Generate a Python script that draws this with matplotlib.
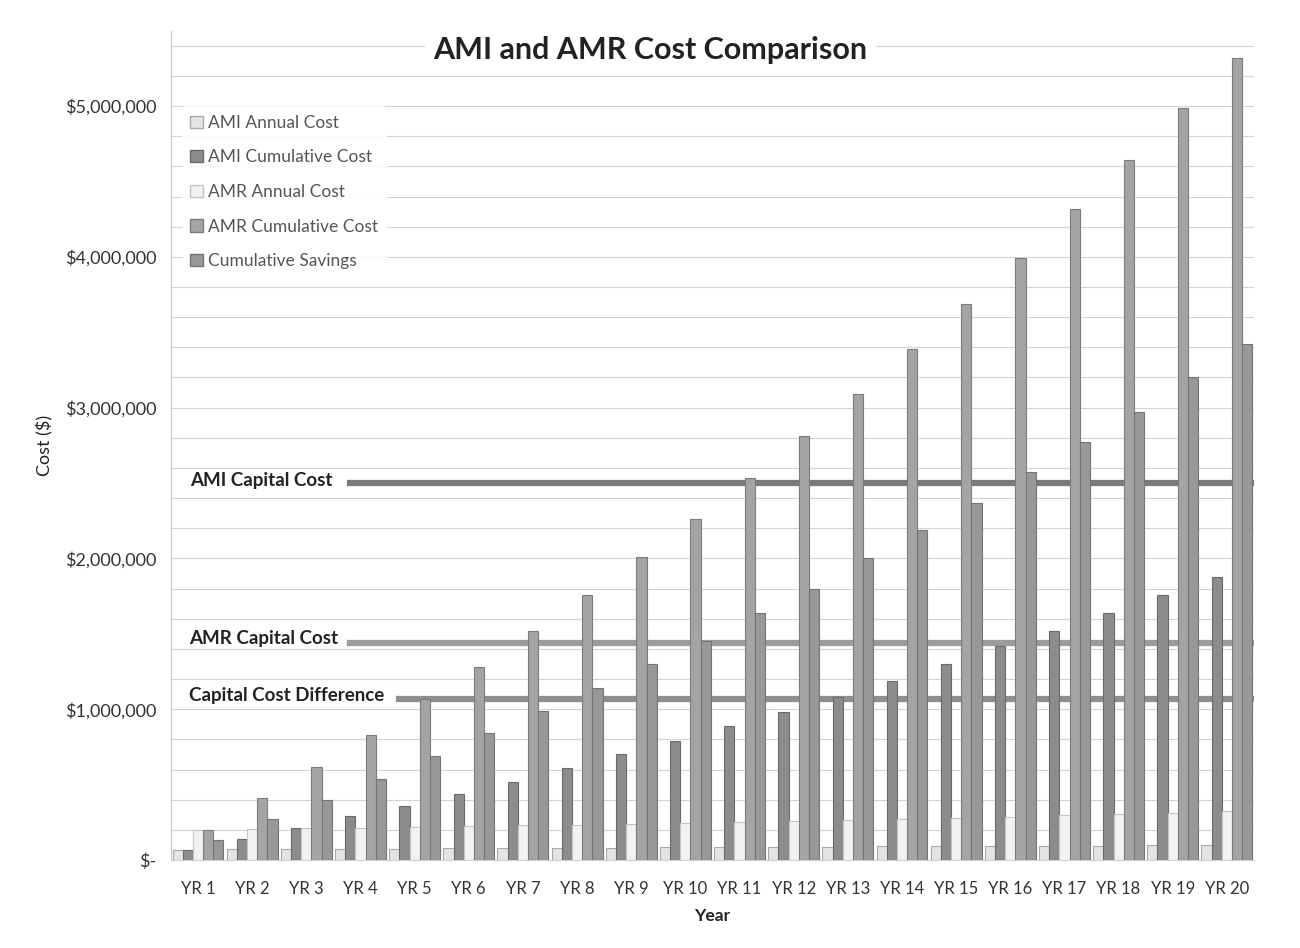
import matplotlib.pyplot as plt
import numpy as np
from matplotlib.patches import Patch
from matplotlib.ticker import FuncFormatter, MultipleLocator

years = [f"YR {i}" for i in range(1, 21)]

ami_annual = [66000, 70000, 72000, 74000, 76000, 78000, 80000, 82000, 83000, 84000,
              86000, 87000, 88000, 90000, 92000, 93000, 95000, 96000, 98000, 100000]
ami_cumulative = [66000, 140000, 210000, 290000, 360000, 440000, 520000, 610000, 700000, 790000,
                  890000, 980000, 1080000, 1190000, 1300000, 1420000, 1520000, 1640000, 1760000, 1880000]
amr_annual = [200000, 205000, 210000, 215000, 220000, 225000, 230000, 235000, 240000, 245000,
              250000, 258000, 265000, 272000, 280000, 288000, 296000, 305000, 315000, 325000]
amr_cumulative = [200000, 410000, 620000, 830000, 1070000, 1280000, 1520000, 1760000, 2010000, 2260000,
                  2530000, 2810000, 3090000, 3390000, 3690000, 3990000, 4320000, 4640000, 4990000, 5320000]
cum_savings = [130000, 270000, 400000, 540000, 690000, 840000, 990000, 1140000, 1300000, 1450000,
               1640000, 1800000, 2000000, 2190000, 2370000, 2570000, 2770000, 2970000, 3200000, 3420000]

ami_capital = 2500000
amr_capital = 1440000
capital_diff = 1070000

series = [
    ("AMI Annual Cost", ami_annual, "#e4e4e4", "#a8a8a8"),
    ("AMI Cumulative Cost", ami_cumulative, "#8c8c8c", "#6a6a6a"),
    ("AMR Annual Cost", amr_annual, "#f2f2f2", "#c4c4c4"),
    ("AMR Cumulative Cost", amr_cumulative, "#a4a4a4", "#7c7c7c"),
    ("Cumulative Savings", cum_savings, "#989898", "#747474"),
]

plt.rcParams['font.family'] = ['Lato', 'DejaVu Sans']

fig = plt.figure(figsize=(13, 9.48), dpi=100)
ax = fig.add_axes([0.1315, 0.0928, 0.8331, 0.8749])

x = np.arange(len(years))
w = 0.188
for i, (name, vals, fc, ec) in enumerate(series):
    ax.bar(x + (i - 2) * w, vals, width=w, color=fc, edgecolor=ec, linewidth=0.8, zorder=3)

# capital cost reference lines
ax.axhline(ami_capital, xmin=0.165, xmax=0.997, color="#7a7a7a", lw=4.5, zorder=2)
ax.axhline(amr_capital, xmin=0.165, xmax=0.997, color="#9c9c9c", lw=4.5, zorder=2)
ax.axhline(capital_diff, xmin=0.211, xmax=0.997, color="#8e8e8e", lw=4.5, zorder=2)

tr = ax.get_yaxis_transform()
ax.text(0.0175, ami_capital + 20000, "AMI Capital Cost", transform=tr, fontsize=13.5,
        fontweight='bold', color="#222222", va='center', ha='left')
ax.text(0.0165, amr_capital + 30000, "AMR Capital Cost", transform=tr, fontsize=13.5,
        fontweight='bold', color="#222222", va='center', ha='left')
ax.text(0.0165, capital_diff + 20000, "Capital Cost Difference", transform=tr, fontsize=13.5,
        fontweight='bold', color="#222222", va='center', ha='left')

ax.set_xlim(-0.5, len(years) - 0.5)
ax.set_ylim(0, 5500000)
ax.yaxis.set_major_locator(MultipleLocator(1000000))
ax.yaxis.set_minor_locator(MultipleLocator(200000))
ax.yaxis.set_major_formatter(FuncFormatter(lambda v, p: "$-" if v == 0 else f"${v:,.0f}"))
ax.grid(axis='y', which='both', color="#d4d4d4", lw=0.8, zorder=0)
ax.set_axisbelow(True)

ax.set_xticks(x)
ax.set_xticklabels(years)
ax.tick_params(axis='x', length=0, labelsize=12, colors="#333333", pad=15)
ax.tick_params(axis='y', which='both', length=0, labelsize=13, colors="#333333", pad=10.5)

for s in ['top', 'right']:
    ax.spines[s].set_visible(False)
ax.spines['left'].set_color("#c8c8c8")
ax.spines['bottom'].set_color("#d0d0d0")

ax.set_xlabel("Year", fontsize=12.5, fontweight='bold', color="#222222", labelpad=8)
ax.set_ylabel("Cost ($)", fontsize=13, color="#222222", labelpad=8)

ax.text(0.443, 0.977, "AMI and AMR Cost Comparison", transform=ax.transAxes, fontsize=22,
        fontweight='bold', color="#222222", ha='center', va='center', zorder=5,
        bbox=dict(facecolor='white', edgecolor='none', pad=6))

handles = [Patch(facecolor=fc, edgecolor=ec, label=name) for name, vals, fc, ec in series]
leg = ax.legend(handles=handles, loc='upper left', bbox_to_anchor=(0.01, 0.909), fontsize=12.5,
                frameon=True, facecolor='white', edgecolor='none', framealpha=0.9,
                handlelength=0.7, handleheight=0.7, handletextpad=0.3, labelspacing=1.07,
                borderpad=0.5, borderaxespad=0)
for t in leg.get_texts():
    t.set_color("#555555")
leg.set_zorder(6)

fig.savefig("out.png", dpi=100)
